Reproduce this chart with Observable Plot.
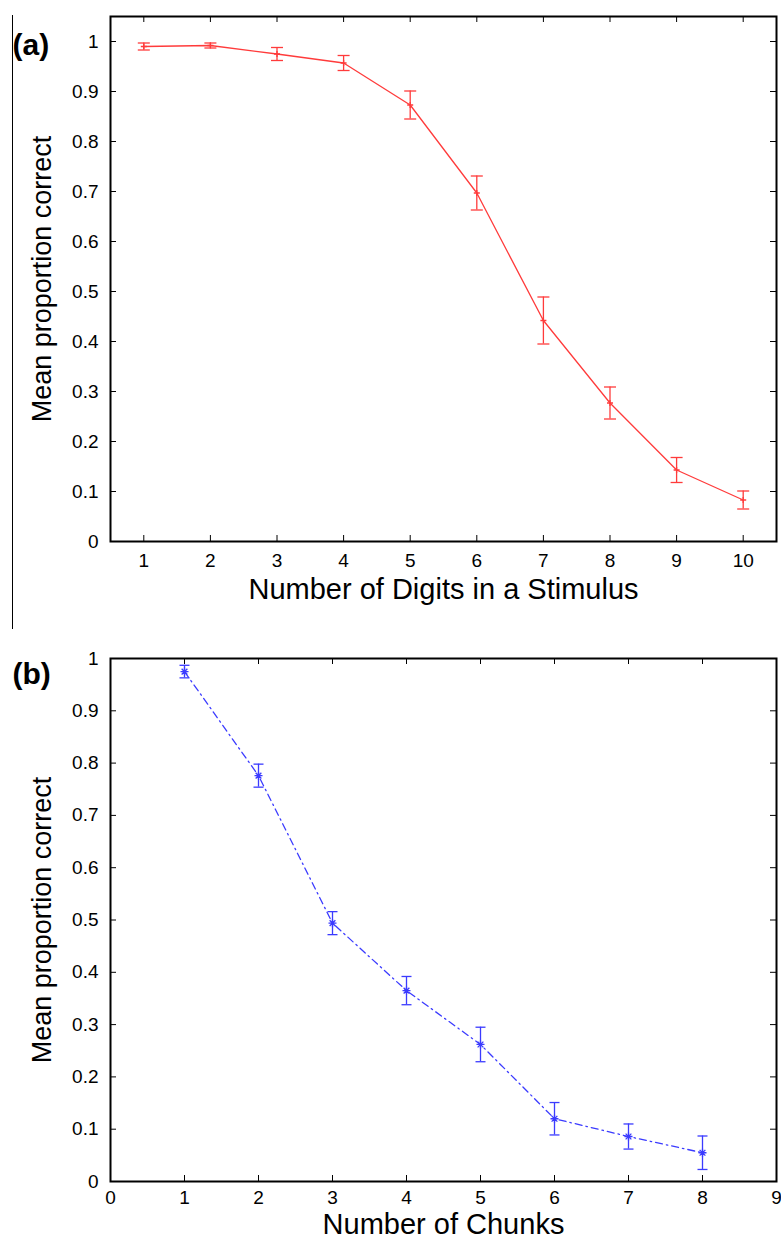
<!DOCTYPE html>
<html>
<head>
<meta charset="utf-8">
<script src="https://cdn.jsdelivr.net/npm/d3@7"></script>
<script src="https://cdn.jsdelivr.net/npm/@observablehq/plot@0.6"></script>
<style>
  body { margin: 0; width: 781px; height: 1248px; position: relative; background: #fff; overflow: hidden; }
  #pa { position: absolute; top: 0; left: 0; }
  #pb { position: absolute; top: 620px; left: 0; }
  #vline { position: absolute; left: 12px; top: 15px; width: 0; height: 614px; border-left: 1.5px solid #000; z-index: 5; }
</style>
</head>
<body>
<div id="pa"></div>
<div id="pb"></div>
<div id="vline"></div>
<script>
// ---------- Data ----------
// Panel (a): proportion correct vs number of digits
const digits = [1, 2, 3, 4, 5, 6, 7, 8, 9, 10];
const propA  = [0.990, 0.992, 0.975, 0.957, 0.873, 0.697, 0.442, 0.277, 0.143, 0.083];
const errA   = [0.007, 0.005, 0.013, 0.015, 0.028, 0.034, 0.047, 0.032, 0.025, 0.018];

// Panel (b): proportion correct vs number of chunks
const chunks = [1, 2, 3, 4, 5, 6, 7, 8];
const propB  = [0.975, 0.776, 0.494, 0.365, 0.262, 0.120, 0.086, 0.055];
const errB   = [0.012, 0.022, 0.022, 0.027, 0.033, 0.031, 0.024, 0.032];

const xTicksA = [1, 2, 3, 4, 5, 6, 7, 8, 9, 10];
const xTicksB = [0, 1, 2, 3, 4, 5, 6, 7, 8, 9];
const yTicks  = [0, 0.1, 0.2, 0.3, 0.4, 0.5, 0.6, 0.7, 0.8, 0.9, 1];

const labelA = "(a)";
const labelB = "(b)";
const xTitleA = "Number of Digits in a Stimulus";
const xTitleB = "Number of Chunks";
const yTitle = "Mean proportion correct";

// ---------- Helpers ----------
const tableA = digits.map((x, i) => ({x, y: propA[i], lo: propA[i] - errA[i], hi: propA[i] + errA[i]}));
const tableB = chunks.map((x, i) => ({x, y: propB[i], lo: propB[i] - errB[i], hi: propB[i] + errB[i]}));

const capSym = {draw(ctx, size) { const w = Math.sqrt(size / Math.PI); ctx.moveTo(-w, 0); ctx.lineTo(w, 0); }};
const plusSym = {draw(ctx, size) { const w = Math.sqrt(size / Math.PI); ctx.moveTo(-w, 0); ctx.lineTo(w, 0); ctx.moveTo(0, -w); ctx.lineTo(0, w); }};
const starSym = {draw(ctx, size) {
  const w = Math.sqrt(size / Math.PI), d = w * 0.72;
  ctx.moveTo(-w, 0); ctx.lineTo(w, 0); ctx.moveTo(0, -w); ctx.lineTo(0, w);
  ctx.moveTo(-d, -d); ctx.lineTo(d, d); ctx.moveTo(-d, d); ctx.lineTo(d, -d);
}};

const font = "'Liberation Sans', Arial, Helvetica, sans-serif";
const W = 781, ML = 110, MR = 5;
const PW = W - ML - MR;
const fmt = d => `${d}`;

function panel({table, xDomain, yDomain, xTicks, height, mt, mb, color, symbol, symR, capR, dash, label, labelDy, xTitle, xTitleDy, xPad}) {
  const PH = height - mt - mb;
  return Plot.plot({
    width: W, height, marginTop: mt, marginBottom: mb, marginLeft: ML, marginRight: MR,
    x: {domain: xDomain},
    y: {domain: yDomain},
    style: {fontFamily: font, background: "#fff", color: "#000", overflow: "visible"},
    marks: [
      Plot.axisX(xTicks, {tickSize: 0, tickPadding: xPad, fontSize: 19, label: null, tickFormat: fmt}),
      Plot.axisY(yTicks, {tickSize: 0, tickPadding: 12, fontSize: 19, label: null, tickFormat: fmt}),
      Plot.tickX(xTicks, {x: d => d, insetTop: PH - 6, stroke: "#000", strokeWidth: 1}),
      Plot.tickX(xTicks, {x: d => d, insetBottom: PH - 6, stroke: "#000", strokeWidth: 1}),
      Plot.tickY(yTicks, {y: d => d, insetRight: PW - 6, stroke: "#000", strokeWidth: 1}),
      Plot.tickY(yTicks, {y: d => d, insetLeft: PW - 6, stroke: "#000", strokeWidth: 1}),
      Plot.line(table, {x: "x", y: "y", stroke: color, strokeWidth: 1.3, strokeDasharray: dash}),
      Plot.ruleX(table, {x: "x", y1: "lo", y2: "hi", stroke: color, strokeWidth: 1.3}),
      Plot.dot(table, {x: "x", y: "lo", symbol: capSym, r: capR, stroke: color, fill: "none", strokeWidth: 1.3}),
      Plot.dot(table, {x: "x", y: "hi", symbol: capSym, r: capR, stroke: color, fill: "none", strokeWidth: 1.3}),
      Plot.dot(table, {x: "x", y: "y", symbol, r: symR, stroke: color, fill: "none", strokeWidth: 1.3}),
      Plot.frame({stroke: "#000", strokeWidth: 2}),
      Plot.text([label], {text: d => d, frameAnchor: "top-left", dx: -98, dy: labelDy, textAnchor: "start", fontSize: 30, fontWeight: "bold", fill: "#000"}),
      Plot.text([xTitle], {text: d => d, frameAnchor: "bottom", dy: xTitleDy, textAnchor: "middle", fontSize: 29, fill: "#000"}),
      Plot.text([yTitle], {text: d => d, frameAnchor: "left", dx: -68, rotate: -90, textAnchor: "middle", fontSize: 27, fill: "#000"})
    ]
  });
}

document.getElementById("pa").append(panel({
  table: tableA, xDomain: [0.5, 10.5], yDomain: [0, 1.05], xTicks: xTicksA,
  height: 612, mt: 16, mb: 71, color: "#ff3b3b", symbol: plusSym, symR: 3, capR: 6, dash: null,
  label: labelA, labelDy: 17, xTitle: xTitleA, xTitleDy: 57, xPad: 12
}));

document.getElementById("pb").append(panel({
  table: tableB, xDomain: [0, 9], yDomain: [0, 1], xTicks: xTicksB,
  height: 628, mt: 38, mb: 67, color: "#3b3bff", symbol: starSym, symR: 4, capR: 5, dash: "7,4,1.5,4",
  label: labelB, labelDy: 4, xTitle: xTitleB, xTitleDy: 52, xPad: 9
}));
</script>
</body>
</html>
